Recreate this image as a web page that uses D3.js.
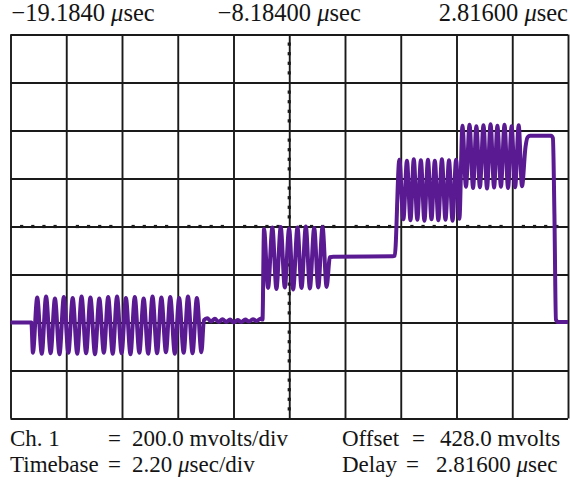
<!DOCTYPE html>
<html>
<head>
<meta charset="utf-8">
<script src="https://cdn.jsdelivr.net/npm/d3@7/dist/d3.min.js"></script>
<style>
  body { margin: 0; background: #fff; }
  svg text { font-family: "Liberation Serif", "Times New Roman", serif; fill: #141414; }
</style>
</head>
<body>
<script>
// scope settings
var timeDiv = 2.2,        // usec/div
  voltDiv = 200,          // mV/div
  offset = 428,           // mV at centre line
  delay = 2.816;          // usec at right edge

// grid lines (usec, mV)
var gridTimes = [-19.184, -16.984, -14.784, -12.584, -10.384, -8.184, -5.984, -3.784, -1.584, 0.616, 2.816];
var gridVolts = [-372, -172, 28, 228, 428, 628, 828, 1028, 1228];

// top labels
var topTimes = [-19.184, -8.184, 2.816];
var topLabels = ["\u221219.1840", "\u22128.18400", "2.81600"];

// trace, [usec, mV]
var lead = [[-19.184, 28], [-18.36, 28]];
var burst1 = [[-18.30, -98], [-18.13, 132], [-17.95, -102], [-17.78, 136], [-17.60, -100], [-17.43, 128],
  [-17.25, -104], [-17.08, 134], [-16.90, -98], [-16.73, 130], [-16.55, -102], [-16.38, 136],
  [-16.20, -100], [-16.03, 132], [-15.85, -104], [-15.68, 128], [-15.50, -98], [-15.33, 134],
  [-15.15, -102], [-14.98, 136], [-14.80, -100], [-14.63, 130], [-14.45, -104], [-14.28, 134],
  [-14.10, -98], [-13.93, 128], [-13.75, -102], [-13.58, 136], [-13.40, -100], [-13.23, 132],
  [-13.05, -96], [-12.88, 134], [-12.70, -102], [-12.53, 130], [-12.35, -98], [-12.18, 136],
  [-12.00, -100], [-11.83, 130], [-11.65, -96]];
var ripple = [[-11.55, 38], [-11.42, 46], [-11.27, 32], [-11.12, 44], [-10.97, 30], [-10.82, 42],
  [-10.67, 30], [-10.52, 40], [-10.37, 28], [-10.22, 38], [-10.07, 30], [-9.92, 40], [-9.77, 32],
  [-9.62, 42], [-9.47, 34], [-9.32, 44], [-9.24, 40]];
var burst2 = [[-9.18, 418], [-9.02, 172], [-8.85, 424], [-8.69, 168], [-8.52, 426], [-8.36, 174],
  [-8.19, 420], [-8.03, 166], [-7.86, 424], [-7.70, 172], [-7.53, 428], [-7.37, 170], [-7.20, 422],
  [-7.04, 174], [-6.87, 426], [-6.71, 176]];
var step2 = [[-6.58, 300], [-6.45, 302], [-4.10, 304], [-4.02, 306]];
var burst3 = [[-3.84, 706], [-3.68, 458], [-3.54, 702], [-3.40, 454], [-3.27, 708], [-3.13, 456],
  [-2.99, 704], [-2.85, 452], [-2.71, 706], [-2.57, 458], [-2.44, 702], [-2.30, 454], [-2.16, 708],
  [-2.02, 456], [-1.88, 704], [-1.74, 452], [-1.60, 706], [-1.47, 460]];
var burst4 = [[-1.35, 848], [-1.21, 594], [-1.07, 852], [-0.93, 588], [-0.80, 846], [-0.66, 592],
  [-0.52, 850], [-0.38, 586], [-0.24, 854], [-0.10, 590], [0.03, 848], [0.17, 594], [0.31, 852],
  [0.45, 588], [0.59, 846], [0.73, 592], [0.87, 850], [1.00, 596]];
var tail = [[1.14, 760], [1.22, 800], [1.32, 806], [2.15, 806], [2.22, 796], [2.28, 480], [2.34, 40],
  [2.42, 30], [2.816, 30]];

var trace = lead.concat(burst1, ripple, burst2, step2, burst3, burst4, tail);

var W = 570, H = 480;
var plot = { left: 10.5, right: 568, top: 34.5, bottom: 418.5 };

var svg = d3.select("body").append("svg")
  .attr("width", W)
  .attr("height", H);

var x = d3.scaleLinear()
  .domain([delay - 10 * timeDiv, delay])
  .range([plot.left, plot.right]);

var y = d3.scaleLinear()
  .domain([offset - 4 * voltDiv, offset + 4 * voltDiv])
  .range([plot.bottom, plot.top]);

// graticule
var xGrid = d3.axisBottom(x)
  .tickValues(gridTimes)
  .tickSize(-(plot.bottom - plot.top))
  .tickFormat("");

var yGrid = d3.axisLeft(y)
  .tickValues(gridVolts)
  .tickSize(-(plot.right - plot.left))
  .tickFormat("");

svg.append("g")
  .attr("class", "grid x")
  .attr("transform", "translate(0," + plot.bottom + ")")
  .call(xGrid);

svg.append("g")
  .attr("class", "grid y")
  .attr("transform", "translate(" + plot.left + ",0)")
  .call(yGrid);

svg.selectAll(".grid .domain").remove();
svg.selectAll(".grid line")
  .attr("stroke", "#1a1a1a")
  .attr("stroke-width", 1.9);

// minor dots on the centre lines (5 per division)
var minorT = d3.range(1, 50).filter(function (i) { return i % 5; })
  .map(function (i) { return x.domain()[0] + i * timeDiv / 5; });
var minorV = d3.range(1, 40).filter(function (i) { return i % 5; })
  .map(function (i) { return y.domain()[0] + i * voltDiv / 5; });

svg.append("g").selectAll("rect.mt")
  .data(minorT)
  .enter().append("rect")
  .attr("class", "mt")
  .attr("x", function (d) { return x(d) - 1.6; })
  .attr("y", y(offset) - 1.6)
  .attr("width", 3.2)
  .attr("height", 3.2)
  .attr("fill", "#1a1a1a");

svg.append("g").selectAll("rect.mv")
  .data(minorV)
  .enter().append("rect")
  .attr("class", "mv")
  .attr("x", x(delay - 5 * timeDiv) - 1.6)
  .attr("y", function (d) { return y(d) - 1.6; })
  .attr("width", 3.2)
  .attr("height", 3.2)
  .attr("fill", "#1a1a1a");

// waveform
var line = d3.line()
  .x(function (d) { return x(d[0]); })
  .y(function (d) { return y(d[1]); })
  .curve(d3.curveMonotoneX);

svg.append("path")
  .datum(trace)
  .attr("fill", "none")
  .attr("stroke", "#5a1a92")
  .attr("stroke-width", 4)
  .attr("stroke-linejoin", "round")
  .attr("d", line);

// top time labels
var anchors = ["start", "middle", "end"];
var topText = svg.append("g").attr("font-size", 24.5);
topTimes.forEach(function (t, i) {
  var tx = topText.append("text")
    .attr("x", x(t) + (i === 0 ? 1 : 0))
    .attr("y", 21)
    .attr("text-anchor", anchors[i]);
  tx.append("tspan").text(topLabels[i] + " ");
  tx.append("tspan").attr("font-style", "italic").text("\u03bc");
  tx.append("tspan").text("sec");
});

// settings readout
var readout = [
  { x: 10, y: 446, parts: [["Ch. 1"]] },
  { x: 108, y: 446, parts: [["="]] },
  { x: 132, y: 446, parts: [["200.0 mvolts/div"]] },
  { x: 342, y: 446, parts: [["Offset"]] },
  { x: 412, y: 446, parts: [["="]] },
  { x: 440, y: 446, parts: [["428.0 mvolts"]] },
  { x: 10, y: 472, parts: [["Timebase"]] },
  { x: 108, y: 472, parts: [["="]] },
  { x: 132, y: 472, parts: [["2.20 "], ["\u03bc", 1], ["sec/div"]] },
  { x: 342, y: 472, parts: [["Delay"]] },
  { x: 406, y: 472, parts: [["="]] },
  { x: 436, y: 472, parts: [["2.81600 "], ["\u03bc", 1], ["sec"]] }
];

var bottomText = svg.append("g").attr("font-size", 23);
readout.forEach(function (r) {
  var tx = bottomText.append("text").attr("x", r.x).attr("y", r.y);
  r.parts.forEach(function (p) {
    tx.append("tspan").attr("font-style", p[1] ? "italic" : null).text(p[0]);
  });
});
</script>
</body>
</html>
